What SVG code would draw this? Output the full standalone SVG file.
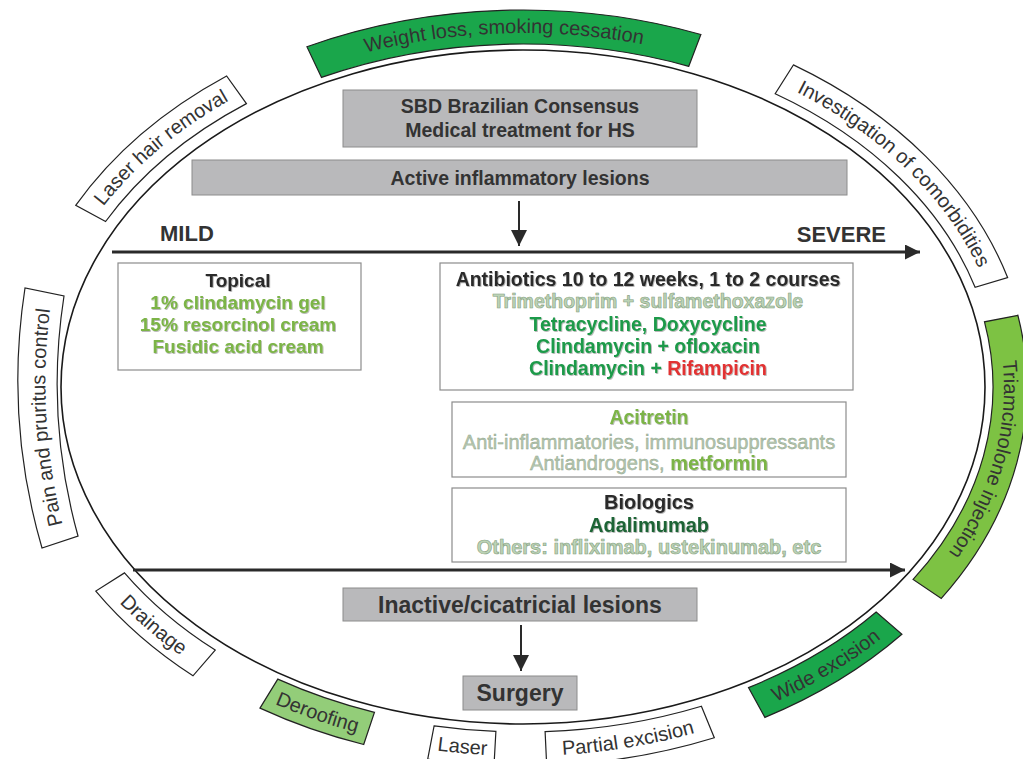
<svg xmlns="http://www.w3.org/2000/svg" width="1023" height="759" viewBox="0 0 1023 759">
<defs>
<style>
.bw{fill:#ffffff;stroke:#222;stroke-width:1.2}
.bdg{fill:#1aa64b;stroke:#222;stroke-width:1.2}
.blg{fill:#7dc243;stroke:#222;stroke-width:1.2}
.bpg{fill:#93cd79;stroke:#222;stroke-width:1.2}
.bt{font-family:"Liberation Sans",Arial,sans-serif;font-size:20px;fill:#333}
.gbox{fill:#b9b9bb;stroke:#8c8c8c;stroke-width:1}
.wbox{fill:#ffffff;stroke:#8c8c8c;stroke-width:1.2}
.t{font-family:"Liberation Sans",Arial,sans-serif;text-anchor:middle}
.b{font-weight:bold}
.hd{fill:#2a2a2a;filter:url(#sh)}
.lg{fill:#7bb446;filter:url(#sh)}
.mg{fill:#1f9a4a;filter:url(#sh)}
.dg{fill:#1c6434;filter:url(#sh)}
.red{fill:#e23232}
.pale{fill:#bcd3b6;stroke:#86a181;stroke-width:0.6}
.paler{fill:#b4c6ae;stroke:#8ea38a;stroke-width:0.4}
.conn{stroke:#2a2a2a;fill:none}
</style>
<filter id="sh" x="-5%" y="-30%" width="110%" height="160%">
<feDropShadow dx="0.8" dy="0.8" stdDeviation="0.5" flood-color="#000" flood-opacity="0.35"/>
</filter>
<marker id="ah" viewBox="0 0 10 10" refX="10" refY="5" markerWidth="6" markerHeight="5" orient="auto" markerUnits="strokeWidth">
<path d="M0 0 L10 5 L0 10 Z" fill="#2a2a2a"/>
</marker>
<marker id="ah2" viewBox="0 0 10 10" refX="10" refY="5" markerWidth="9" markerHeight="8" orient="auto" markerUnits="strokeWidth">
<path d="M0 0 L10 5 L0 10 Z" fill="#2a2a2a"/>
</marker>
<path id="tp1" d="M 316.8 67.5 A 479 354 0 0 1 692.7 56.0"/>
<path id="tp2" d="M 96.0 216.3 A 485 360 0 0 1 240.0 94.6"/>
<path id="tp3" d="M 781.1 84.4 A 483 358 0 0 1 985.6 284.1"/>
<path id="tp4" d="M 66.6 539.8 A 590 590 0 0 1 52.2 293.6"/>
<path id="tp5" d="M 995.3 319.7 A 481 356 0 0 1 922.2 585.5"/>
<path id="tp6" d="M 104.2 585.8 A 496 371 0 0 0 199.6 668.3"/>
<path id="tp7" d="M 265.2 699.6 A 492 367 0 0 0 366.9 735.0"/>
<path id="tp8" d="M 429.6 749.4 A 494 369 0 0 0 494.5 755.4"/>
<path id="tp9" d="M 546.3 755.6 A 494 369 0 0 0 710.5 728.4"/>
<path id="tp10" d="M 760 708.6 A 492 367 0 0 0 894.3 627.8"/>
</defs>
<rect width="1023" height="759" fill="#ffffff"/>
<ellipse id="outline" cx="523" cy="387" rx="462" ry="337" fill="none" stroke="#1a1a1a" stroke-width="1.6"/>

<g id="band-weight"><path class="bdg" d="M 306.9 46.7 A 502 377 0 0 1 700.9 34.5 L 688.8 66.3 A 468 343 0 0 0 321.5 77.4 Z"/><text class="bt"><textPath href="#tp1" startOffset="50%" text-anchor="middle">Weight loss, smoking cessation</textPath></text></g>
<g id="band-laserhair"><path class="bw" d="M 75.7 205.4 A 508 383 0 0 1 226.6 76.0 L 246.4 103.6 A 474 349 0 0 0 105.6 221.5 Z"/><text class="bt"><textPath href="#tp2" startOffset="50%" text-anchor="middle">Laser hair removal</textPath></text></g>
<g id="band-comorb"><path class="bw" d="M 793.4 64.9 A 506 381 0 0 1 1007.6 277.5 L 975.1 287.3 A 472 347 0 0 0 775.2 93.7 Z"/><text class="bt"><textPath href="#tp3" startOffset="50%" text-anchor="middle">Investigation of comorbidities</textPath></text></g>
<g id="band-pain"><path class="bw" d="M 42 548 A 600 600 0 0 1 25 288 L 64 296 A 570 570 0 0 0 78 536 Z"/><text class="bt"><textPath href="#tp4" startOffset="50%" text-anchor="middle">Pain and pruritus control</textPath></text></g>
<g id="band-triam"><path class="blg" d="M 1017.9 315.3 A 504 379 0 0 1 941.3 598.4 L 913.1 579.4 A 470 345 0 0 0 984.5 321.8 Z"/><text class="bt"><textPath href="#tp5" startOffset="50%" text-anchor="middle">Triamcinolone injection</textPath></text></g>
<g id="band-drainage"><path class="bw" d="M 95.8 591.1 A 506 381 0 0 0 193.0 675.8 L 215.2 650.1 A 472 347 0 0 1 124.5 572.9 Z"/><text class="bt"><textPath href="#tp6" startOffset="50%" text-anchor="middle">Drainage</textPath></text></g>
<g id="band-deroofing"><path class="bpg" d="M 260.0 708.1 A 502 377 0 0 0 363.7 744.5 L 374.5 712.3 A 468 343 0 0 1 277.8 679.1 Z"/><text class="bt"><textPath href="#tp7" startOffset="50%" text-anchor="middle">Deroofing</textPath></text></g>
<g id="band-laser"><path class="bw" d="M 427.7 759.2 A 504 379 0 0 0 494.0 765.4 L 495.9 731.4 A 470 345 0 0 1 434.1 725.8 Z"/><text class="bt"><textPath href="#tp8" startOffset="50%" text-anchor="middle">Laser</textPath></text></g>
<g id="band-partial"><path class="bw" d="M 546.7 765.6 A 504 379 0 0 0 714.3 737.7 L 701.4 706.2 A 470 345 0 0 1 545.1 731.6 Z"/><text class="bt"><textPath href="#tp9" startOffset="50%" text-anchor="middle">Partial excision</textPath></text></g>
<g id="band-wide"><path class="bdg" d="M 764.9 717.4 A 502 377 0 0 0 901.9 634.3 L 876.2 612.0 A 468 343 0 0 1 748.5 687.6 Z"/><text class="bt"><textPath href="#tp10" startOffset="50%" text-anchor="middle">Wide excision</textPath></text></g>

<g id="title"><rect class="gbox" x="343" y="90" width="354" height="57"/>
<text class="t b" x="520" y="113" font-size="19.5" fill="#333">SBD Brazilian Consensus</text>
<text class="t b" x="520" y="137" font-size="19.5" fill="#333">Medical treatment for HS</text></g>
<g id="active"><rect class="gbox" x="192" y="160" width="655" height="35"/>
<text class="t b" x="520" y="184.5" font-size="19.5" fill="#333">Active inflammatory lesions</text></g>
<g id="mild"><text x="160" y="241" font-family="Liberation Sans, Arial, sans-serif" font-weight="bold" font-size="22" fill="#333">MILD</text></g>
<g id="severe"><text x="886" y="242" text-anchor="end" font-family="Liberation Sans, Arial, sans-serif" font-weight="bold" font-size="22" fill="#333">SEVERE</text></g>

<g id="topical"><rect class="wbox" x="118" y="263" width="243" height="107"/>
<text class="t b hd" x="238" y="287" font-size="19">Topical</text>
<text class="t b lg" x="238" y="309" font-size="19">1% clindamycin gel</text>
<text class="t b lg" x="238" y="331" font-size="19">15% resorcinol cream</text>
<text class="t b lg" x="238" y="353" font-size="19">Fusidic acid cream</text></g>

<g id="antibiotics"><rect class="wbox" x="440" y="263" width="413" height="127"/>
<text class="t b hd" x="648" y="286" font-size="19.5">Antibiotics 10 to 12 weeks, 1 to 2 courses</text>
<text class="t b pale" x="648" y="308" font-size="19.5">Trimethoprim + sulfamethoxazole</text>
<text class="t b mg" x="648" y="331" font-size="19.5">Tetracycline, Doxycycline</text>
<text class="t b mg" x="648" y="353" font-size="19.5">Clindamycin + ofloxacin</text>
<text class="t b mg" x="648" y="375" font-size="19.5">Clindamycin + <tspan class="red">Rifampicin</tspan></text></g>

<g id="acitretin"><rect class="wbox" x="452" y="402" width="394" height="75"/>
<text class="t b lg" x="649" y="424" font-size="19.5">Acitretin</text>
<text class="t paler" x="649" y="449" font-size="20">Anti-inflammatories, immunosuppressants</text>
<text class="t paler" x="649" y="470" font-size="20">Antiandrogens, <tspan class="b lg" stroke="none">metformin</tspan></text></g>

<g id="biologics"><rect class="wbox" x="452" y="488" width="394" height="74"/>
<text class="t b hd" x="649" y="509" font-size="20">Biologics</text>
<text class="t b dg" x="649" y="532" font-size="20">Adalimumab</text>
<text class="t b pale" x="649" y="554" font-size="20">Others: infliximab, ustekinumab, etc</text></g>

<g id="inactive"><rect class="gbox" x="343" y="588" width="354" height="33"/>
<text class="t b" x="520" y="612.5" font-size="23" fill="#333">Inactive/cicatricial lesions</text></g>
<g id="surgery"><rect class="gbox" x="463" y="676" width="114" height="34"/>
<text class="t b" x="520" y="701" font-size="23" fill="#333">Surgery</text></g>

<g id="connectors">
<line class="conn" x1="519" y1="201" x2="519" y2="246" stroke-width="2" marker-end="url(#ah2)"/>
<line class="conn" x1="112" y1="252" x2="920" y2="252" stroke-width="3" marker-end="url(#ah)"/>
<line class="conn" x1="133" y1="570" x2="905" y2="570" stroke-width="3" marker-end="url(#ah)"/>
<line class="conn" x1="521" y1="625" x2="521" y2="671" stroke-width="2" marker-end="url(#ah2)"/>
</g>
</svg>
